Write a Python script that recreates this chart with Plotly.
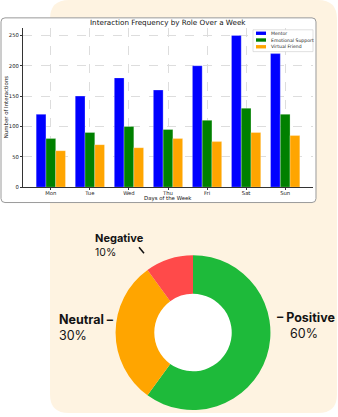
import plotly.graph_objects as go

W, H = 338, 417

# ---- data ----
days = ["Mon", "Tue", "Wed", "Thu", "Fri", "Sat", "Sun"]
series_names = ["Mentor", "Emotional Support", "Virtual Friend"]
mentor = [120, 150, 180, 160, 200, 250, 220]
emotional = [80, 90, 100, 95, 110, 130, 120]
virtual = [60, 70, 65, 80, 75, 90, 85]
bar_colors = ["#0000FF", "#008000", "#FFA500"]
y_ticks = [0, 50, 100, 150, 200, 250]

sent_labels = ["Positive", "Neutral", "Negative"]
sent_values = [60, 30, 10]
sent_colors = ["#1EBA3A", "#FFA500", "#FF4A4A"]


def px(x):
    return x / W


def py(y):
    return 1 - y / H


def rrect(x0, y0, x1, y1, r):
    pts = []
    p = lambda x, y: f"{px(x):.5f},{py(y):.5f}"
    pts.append("M" + p(x0 + r, y0))
    pts.append("L" + p(x1 - r, y0))
    pts.append("Q" + p(x1, y0) + " " + p(x1, y0 + r))
    pts.append("L" + p(x1, y1 - r))
    pts.append("Q" + p(x1, y1) + " " + p(x1 - r, y1))
    pts.append("L" + p(x0 + r, y1))
    pts.append("Q" + p(x0, y1) + " " + p(x0, y1 - r))
    pts.append("L" + p(x0, y0 + r))
    pts.append("Q" + p(x0, y0) + " " + p(x0 + r, y0))
    return " ".join(pts) + " Z"


fig = go.Figure()

for name, vals, col in zip(series_names, [mentor, emotional, virtual], bar_colors):
    fig.add_trace(go.Bar(
        x=days, y=vals, name=name, marker=dict(color=col, line=dict(width=0.6, color="rgba(255,255,255,0.45)")),
        showlegend=False, hoverinfo="skip",
    ))

fig.add_trace(go.Pie(
    labels=sent_labels, values=sent_values, hole=0.5, sort=False,
    direction="clockwise", rotation=0,
    marker=dict(colors=sent_colors, line=dict(width=0)),
    textinfo="none", hoverinfo="skip", showlegend=False,
    domain=dict(x=[px(193 - 78), px(193 + 78)], y=[py(335 + 78), py(335 - 78)]),
))

dfont = "DejaVu Sans"
axis_color = "#333333"

fig.update_layout(
    width=W, height=H,
    margin=dict(l=0, r=0, t=0, b=0),
    paper_bgcolor="white",
    plot_bgcolor="rgba(0,0,0,0)",
    barmode="group", bargap=0.25, bargroupgap=0,
    xaxis=dict(
        domain=[px(23), px(313)], range=[-0.7125, 6.7125],
        showline=True, linecolor=axis_color, linewidth=1,
        ticks="outside", ticklen=2, tickcolor=axis_color,
        ticklabelstandoff=-2,
        showgrid=True, gridcolor="#dddddd", gridwidth=0.6, griddash="dash",
        tickfont=dict(family=dfont, size=5.3, color="#222"),
        fixedrange=True,
    ),
    yaxis=dict(
        domain=[py(188.5), py(28)], range=[0, 262.5],
        tickvals=y_ticks,
        showline=True, linecolor=axis_color, linewidth=1,
        ticks="outside", ticklen=2, tickcolor=axis_color,
        showgrid=True, gridcolor="#dddddd", gridwidth=0.6, griddash="dash",
        zeroline=False,
        tickfont=dict(family=dfont, size=5.3, color="#222"),
        fixedrange=True,
    ),
)

shapes = [
    dict(type="path", path=rrect(50, 0, 337, 416, 19), xref="paper", yref="paper",
         fillcolor="#FEF3E1", line=dict(width=0), layer="below"),
    dict(type="path", path=rrect(1, 18, 316, 204, 4), xref="paper", yref="paper",
         fillcolor="white", line=dict(width=1, color="#9a9a9a"), layer="below"),
    dict(type="circle", xref="paper", yref="paper",
         x0=px(193 - 40), x1=px(193 + 40), y0=py(335 + 40), y1=py(335 - 40),
         fillcolor="white", line=dict(width=0), layer="below"),
    dict(type="line", xref="paper", yref="paper",
         x0=px(139), y0=py(249), x1=px(144), y1=py(255),
         line=dict(color="#111111", width=1.5)),
]

# manual legend
shapes.append(dict(type="rect", xref="paper", yref="paper",
                   x0=px(253), x1=px(313), y0=py(52), y1=py(30),
                   fillcolor="white", line=dict(width=0.6, color="#cccccc")))
annotations = []
for i, (name, col) in enumerate(zip(series_names, bar_colors)):
    yc = 33.5 + i * 6.8
    shapes.append(dict(type="rect", xref="paper", yref="paper",
                       x0=px(256), x1=px(266), y0=py(yc + 1.7), y1=py(yc - 1.7),
                       fillcolor=col, line=dict(width=0)))
    annotations.append(dict(x=px(268.5), y=py(yc), xref="paper", yref="paper",
                            text=name, showarrow=False, xanchor="left", yanchor="middle",
                            font=dict(family=dfont, size=4.6, color="#222")))

annotations += [
    dict(x=px(168), y=py(23), text="Interaction Frequency by Role Over a Week",
         font=dict(family=dfont, size=7.2, color="#111")),
    dict(x=px(168), y=py(199.5), text="Days of the Week",
         font=dict(family=dfont, size=5.4, color="#111")),
    dict(x=px(6), y=py(108), text="Number of Interactions", textangle=-90,
         font=dict(family=dfont, size=5.4, color="#111")),
]
for a in annotations[-3:]:
    a.update(xref="paper", yref="paper", showarrow=False, xanchor="center", yanchor="middle")

lfont = "Inter"
lab = [
    ("<b>Negative</b>", 93, 240, 11),
    ("10%", 93, 254, 10.5),
    ("<b>Neutral –</b>", 57, 322, 12.5),
    ("30%", 57, 338, 12.5),
    ("<b>– Positive</b>", 275, 320, 12.5),
    ("60%", 288, 336, 12.5),
]
for t, x, y, s in lab:
    annotations.append(dict(x=px(x), y=py(y), xref="paper", yref="paper", text=t,
                            showarrow=False, xanchor="left", yanchor="middle",
                            font=dict(family=lfont, size=s, color="#141414")))

fig.update_layout(shapes=shapes, annotations=annotations)
fig.write_html("out.html")
